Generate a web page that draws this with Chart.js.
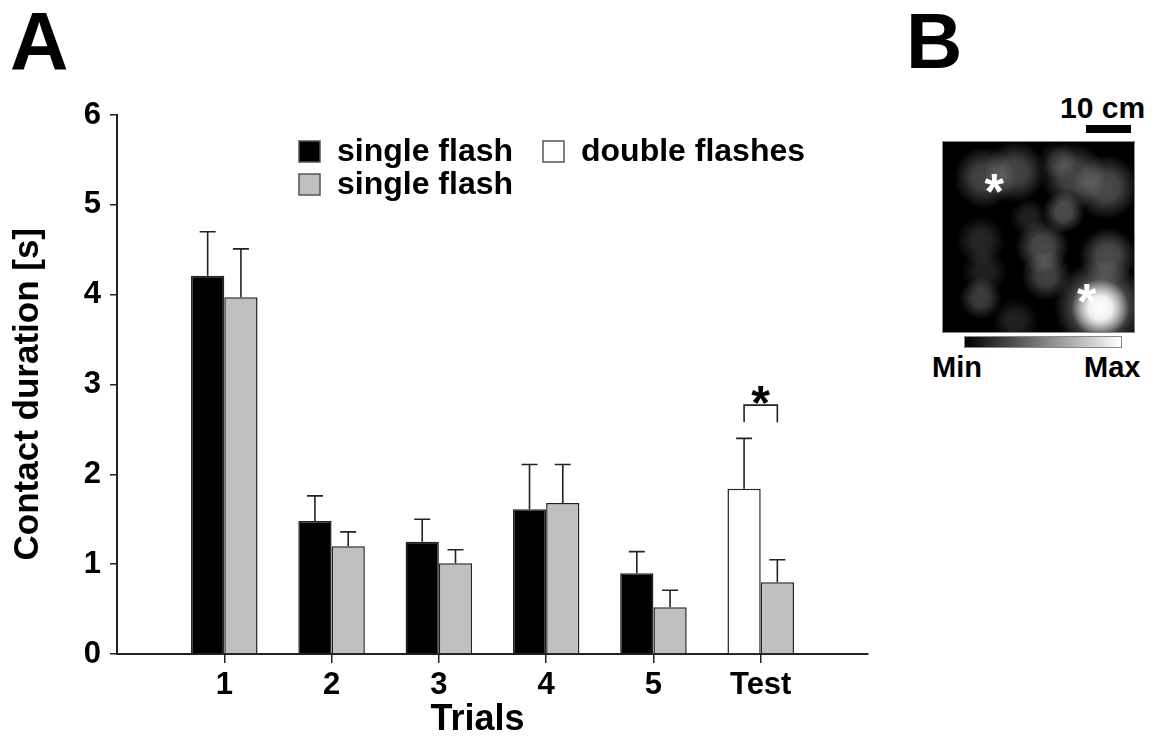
<!DOCTYPE html>
<html lang="en">
<head>
<meta charset="UTF-8">
<title>Contact duration</title>
<script src="https://cdn.jsdelivr.net/npm/chart.js"></script>
<style>
  body { margin: 0; background: #fff; font-family: 'Liberation Sans', Arial, sans-serif; }
  #page { position: relative; width: 1155px; height: 742px; overflow: hidden; background: #fff; }
  .lbl { position: absolute; font-weight: bold; line-height: 1; color: #000; white-space: nowrap; }
  #boxA { position: absolute; left: 0; top: 0; width: 890px; height: 742px; }
  #boxB { position: absolute; left: 942px; top: 141px; width: 193px; height: 192px; }
  #scalebar { position: absolute; left: 1086px; top: 125px; width: 45px; height: 8px; background: #000; }
  #colorbar { position: absolute; left: 964px; top: 336px; width: 156px; height: 10px;
              border: 1px solid #888; background: linear-gradient(to right, #000, #fff); }
</style>
</head>
<body>
<div id="page">
  <div class="lbl" style="left:10px; top:1px; font-size:81px;">A</div>
  <div class="lbl" style="left:906px; top:2px; font-size:78px;">B</div>
  <div id="boxA"><canvas id="chartA"></canvas></div>
  <div class="lbl" style="left:1060px; top:93px; font-size:30px;">10 cm</div>
  <div id="scalebar"></div>
  <div id="boxB"><canvas id="chartB"></canvas></div>
  <div id="colorbar"></div>
  <div class="lbl" style="left:932px; top:353px; font-size:29px;">Min</div>
  <div class="lbl" style="left:1084px; top:353px; font-size:29px;">Max</div>
</div>
<script>
// panel A data
const trials = ['1', '2', '3', '4', '5', 'Test'];
const firstMean = [4.21, 1.48, 1.25, 1.61, 0.90, 1.84];
const firstSem = [0.49, 0.28, 0.25, 0.50, 0.24, 0.56];
const secondMean = [3.97, 1.20, 1.01, 1.68, 0.52, 0.80];
const secondSem = [0.54, 0.16, 0.15, 0.43, 0.19, 0.25];
const legendLabels = ['single flash', 'single flash', 'double flashes'];
const sigTrial = 'Test';
const sigLevel = [2.58, 2.77];

// panel B data (arena in %, y from the top)
const blobX = [22, 38, 68, 85, 63, 52, 54, 20, 22, 20, 86, 45, 38, 60, 82, 82];
const blobY = [19, 16, 18, 24, 37, 55, 70, 52, 68, 82, 60, 40, 94, 10, 86, 87];
const blobSpread = [16, 16, 17, 17, 11, 14, 13, 13, 12, 11, 15, 10, 12, 10, 24, 15];
const blobLevel = [0.27, 0.27, 0.27, 0.29, 0.30, 0.29, 0.26, 0.15, 0.13, 0.24, 0.30, 0.13, 0.13, 0.15, 0.45, 1.0];
const starX = [27, 75];
const starY = [23, 80];

const FONT = "'Liberation Sans', Arial, sans-serif";
const INK = '#222';
const NB = '\u00a0';

const firstColors = trials.map(t => t === 'Test' ? '#ffffff' : '#000000');
const legendColors = ['#000000', '#c0c0c0', '#ffffff'];

const errorBars = {
  id: 'errorBars',
  afterDatasetsDraw(chart) {
    const { ctx, scales: { y } } = chart;
    const sems = [firstSem, secondSem];
    ctx.save();
    ctx.strokeStyle = INK;
    ctx.lineWidth = 1.6;
    chart.data.datasets.forEach((ds, d) => {
      chart.getDatasetMeta(d).data.forEach((bar, i) => {
        const top = y.getPixelForValue(ds.data[i].y + sems[d][i]);
        ctx.beginPath();
        ctx.moveTo(bar.x, bar.y);
        ctx.lineTo(bar.x, top);
        ctx.moveTo(bar.x - 8, top);
        ctx.lineTo(bar.x + 8, top);
        ctx.stroke();
      });
    });
    // significance bracket
    const i = trials.indexOf(sigTrial);
    const xa = chart.getDatasetMeta(0).data[i].x;
    const xb = chart.getDatasetMeta(1).data[i].x;
    const yl = y.getPixelForValue(sigLevel[0]);
    const yh = y.getPixelForValue(sigLevel[1]);
    ctx.beginPath();
    ctx.moveTo(xa, yl); ctx.lineTo(xa, yh); ctx.lineTo(xb, yh); ctx.lineTo(xb, yl);
    ctx.stroke();
    ctx.fillStyle = '#000';
    ctx.font = 'bold 48px ' + FONT;
    ctx.textAlign = 'center';
    ctx.textBaseline = 'alphabetic';
    ctx.fillText('*', (xa + xb) / 2, yh + 14);
    ctx.restore();
  }
};

const boxLegend = {
  id: 'boxLegend',
  afterDraw(chart) {
    const { ctx } = chart;
    const spots = [[299, 141], [299, 174], [543, 141]];
    ctx.save();
    ctx.font = 'bold 32px ' + FONT;
    ctx.textBaseline = 'alphabetic';
    ctx.textAlign = 'left';
    legendLabels.forEach((lab, k) => {
      const [x, y] = spots[k];
      ctx.fillStyle = legendColors[k];
      ctx.fillRect(x, y, 21, 21);
      ctx.strokeStyle = '#555';
      ctx.lineWidth = 1.5;
      ctx.strokeRect(x, y, 21, 21);
      ctx.fillStyle = '#000';
      ctx.fillText(lab, x + 38, y + 20);
    });
    ctx.restore();
  }
};

new Chart(document.getElementById('chartA'), {
  type: 'bar',
  data: {
    datasets: [
      {
        label: legendLabels[0],
        data: trials.map((t, i) => ({ x: i + 1, y: firstMean[i] })),
        backgroundColor: firstColors,
        borderColor: INK,
        borderWidth: 1.5
      },
      {
        label: legendLabels[1],
        data: trials.map((t, i) => ({ x: i + 1, y: secondMean[i] })),
        backgroundColor: '#c0c0c0',
        borderColor: INK,
        borderWidth: 1.5
      }
    ]
  },
  options: {
    responsive: true,
    maintainAspectRatio: false,
    animation: false,
    events: [],
    categoryPercentage: 0.62,
    barPercentage: 1,
    layout: { padding: { top: 115, right: 22, left: 0, bottom: 0 } },
    plugins: { legend: { display: false }, tooltip: { enabled: false } },
    scales: {
      x: {
        type: 'linear',
        min: 0,
        max: 7,
        offset: false,
        afterBuildTicks: s => { s.ticks = trials.map((t, i) => ({ value: i + 1 })); },
        afterFit: s => { s.height = 88; s.paddingLeft = 0; s.paddingRight = 0; },
        grid: { offset: false, drawOnChartArea: false, tickLength: 9, color: INK, lineWidth: 1.5 },
        border: { color: INK, width: 2 },
        ticks: {
          autoSkip: false,
          maxRotation: 0,
          padding: 4,
          color: '#000',
          font: { family: FONT, size: 31, weight: 'bold' },
          callback: v => trials[v - 1]
        },
        title: {
          display: true,
          text: 'Trials' + NB + NB + NB,
          color: '#000',
          font: { family: FONT, size: 36, weight: 'bold' },
          padding: { top: 0, bottom: 0 }
        }
      },
      y: {
        min: 0,
        max: 6,
        afterFit: s => { s.width = 117; s.paddingTop = 0; s.paddingBottom = 0; },
        grid: { drawOnChartArea: false, tickLength: 7, color: INK, lineWidth: 1.5 },
        border: { color: INK, width: 2 },
        ticks: {
          stepSize: 1,
          padding: 9,
          color: '#000',
          font: { family: FONT, size: 31, weight: 'bold' }
        },
        title: {
          display: true,
          text: 'Contact duration [s]' + NB + NB,
          color: '#000',
          font: { family: FONT, size: 35, weight: 'bold' },
          padding: { top: 7, bottom: 0 }
        }
      }
    }
  },
  plugins: [errorBars, boxLegend]
});

// panel B: occupancy heat map, one soft spot per bubble point
const arenaPaint = {
  id: 'arenaPaint',
  beforeDatasetsDraw(chart) {
    const { ctx, chartArea: a, scales: { x } } = chart;
    ctx.save();
    ctx.beginPath();
    ctx.rect(a.left, a.top, a.width, a.height);
    ctx.clip();
    ctx.fillStyle = '#000';
    ctx.fillRect(a.left, a.top, a.width, a.height);
    const ds = chart.data.datasets[0];
    chart.getDatasetMeta(0).data.forEach((pt, i) => {
      const v = ds.data[i].v;
      const r = Math.max(Math.abs(x.getPixelForValue(ds.data[i].s) - x.getPixelForValue(0)), 1);
      const g = ctx.createRadialGradient(pt.x, pt.y, 0, pt.x, pt.y, r);
      g.addColorStop(0, `rgba(255,255,255,${v})`);
      g.addColorStop(0.4, `rgba(255,255,255,${v * 0.9})`);
      g.addColorStop(0.72, `rgba(255,255,255,${v * 0.4})`);
      g.addColorStop(1, 'rgba(255,255,255,0)');
      ctx.fillStyle = g;
      ctx.beginPath();
      ctx.arc(pt.x, pt.y, r, 0, Math.PI * 2);
      ctx.fill();
    });
    ctx.restore();
  },
  afterDraw(chart) {
    const { ctx, chartArea: a, scales: { x, y } } = chart;
    ctx.save();
    ctx.fillStyle = '#fff';
    ctx.font = 'bold 50px ' + FONT;
    ctx.textAlign = 'center';
    ctx.textBaseline = 'alphabetic';
    starX.forEach((sx, k) => {
      ctx.fillText('*', x.getPixelForValue(sx), y.getPixelForValue(starY[k]) + 24);
    });
    ctx.strokeStyle = '#888';
    ctx.lineWidth = 1;
    ctx.strokeRect(a.left + 0.5, a.top + 0.5, a.width - 1, a.height - 1);
    ctx.restore();
  }
};

new Chart(document.getElementById('chartB'), {
  type: 'bubble',
  data: {
    datasets: [{
      data: blobX.map((bx, i) => ({ x: bx, y: blobY[i], s: blobSpread[i], v: blobLevel[i] })),
      radius: 0,
      borderWidth: 0,
      backgroundColor: 'rgba(0,0,0,0)'
    }]
  },
  options: {
    responsive: true,
    maintainAspectRatio: false,
    animation: false,
    events: [],
    layout: { padding: 0 },
    plugins: { legend: { display: false }, tooltip: { enabled: false } },
    scales: {
      x: { min: 0, max: 100, display: false },
      y: { min: 0, max: 100, reverse: true, display: false }
    }
  },
  plugins: [arenaPaint]
});
</script>
</body>
</html>
